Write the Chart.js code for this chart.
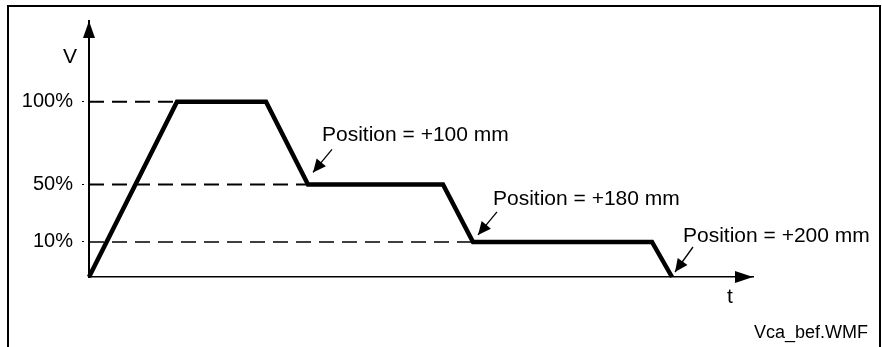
<!DOCTYPE html>
<html>
<head>
<meta charset="utf-8">
<script src="https://cdn.jsdelivr.net/npm/chart.js@4/dist/chart.umd.min.js"></script>
<style>
  body { margin: 0; background: #fff; }
  canvas { display: block; }
</style>
</head>
<body>
<canvas id="speed-chart" width="882" height="347"></canvas>
<script>
// speed profile: time (schematic units) and speed in % of max
const times = [0, 88, 177, 219, 354, 384, 563, 583];
const speeds = [0, 100, 100, 50, 50, 10, 10, 0];
const levelTicks = [10, 50, 100];
const positionLabels = ['Position = +100 mm', 'Position = +180 mm', 'Position = +200 mm'];
const positionPoints = [3, 5, 7];

const FONT = "'Liberation Sans', Arial, sans-serif";

// the speed levels are not drawn to scale, so stretch them piecewise
const levelFrom = [0, 10, 50, 100];
const levelTo = [0, 20, 52.8, 100];

function mapPiecewise(v, from, to) {
    if (v <= from[0]) return to[0] + (v - from[0]);
    for (let i = 1; i < from.length; i++) {
        if (v <= from[i]) {
            const f = (v - from[i - 1]) / (from[i] - from[i - 1]);
            return to[i - 1] + f * (to[i] - to[i - 1]);
        }
    }
    return to[to.length - 1] + (v - from[from.length - 1]);
}

class StepLevelScale extends Chart.LinearScale {
    static id = 'stepLevel';
    static defaults = {};
    getPixelForValue(value) {
        return super.getPixelForValue(mapPiecewise(value, levelFrom, levelTo));
    }
    getValueForPixel(pixel) {
        return mapPiecewise(super.getValueForPixel(pixel), levelTo, levelFrom);
    }
}
Chart.register(StepLevelScale);

const profile = times.map((t, i) => ({ x: t, y: speeds[i] }));

// dashed guide from the axis to where each level is first reached
const guides = levelTicks.map(level => {
    const i = speeds.indexOf(level);
    return {
        data: [{ x: 0, y: level }, { x: times[i], y: level }],
        borderColor: '#000',
        borderWidth: level === 10 ? 1.4 : 2,
        borderDash: [15, 8],
        pointRadius: 0,
        clip: false
    };
});

function arrowHead(ctx, x1, y1, x2, y2, len, half) {
    const a = Math.atan2(y2 - y1, x2 - x1);
    ctx.beginPath();
    ctx.moveTo(x2, y2);
    ctx.lineTo(x2 - len * Math.cos(a) + half * Math.sin(a), y2 - len * Math.sin(a) - half * Math.cos(a));
    ctx.lineTo(x2 - len * Math.cos(a) - half * Math.sin(a), y2 - len * Math.sin(a) + half * Math.cos(a));
    ctx.closePath();
    ctx.fill();
}

const decorations = {
    id: 'decorations',
    afterDraw(chart, args, opts) {
        const ctx = chart.ctx;
        const area = chart.chartArea;
        const xs = chart.scales.x;
        const ys = chart.scales.y;
        ctx.save();
        ctx.strokeStyle = '#000';
        ctx.fillStyle = '#000';

        // frame round the figure, open at the bottom
        ctx.lineWidth = 2;
        ctx.beginPath();
        ctx.moveTo(8, chart.height);
        ctx.lineTo(8, 6);
        ctx.lineTo(880, 6);
        ctx.lineTo(880, chart.height);
        ctx.stroke();

        // axis arrow heads
        arrowHead(ctx, area.left, area.top + 20, area.left, area.top, 17, 6);
        arrowHead(ctx, area.right - 20, area.bottom, area.right, area.bottom, 18, 6);

        ctx.font = '21px ' + FONT;
        ctx.textBaseline = 'alphabetic';
        ctx.textAlign = 'center';
        ctx.fillText('V', 70, 63);
        ctx.fillText('t', 730, 303);

        // position callouts with arrows to the profile corners
        ctx.textAlign = 'left';
        positionLabels.forEach((label, i) => {
            const idx = positionPoints[i];
            const px = xs.getPixelForValue(times[idx]);
            const py = ys.getPixelForValue(speeds[idx]);
            const o = opts.offsets[i];
            ctx.fillText(label, px + o.text[0], py + o.text[1]);
            const x1 = px + o.from[0], y1 = py + o.from[1];
            const x2 = px + o.to[0], y2 = py + o.to[1];
            ctx.lineWidth = 1.3;
            ctx.beginPath();
            ctx.moveTo(x1, y1);
            ctx.lineTo(x2, y2);
            ctx.stroke();
            arrowHead(ctx, x1, y1, x2, y2, 13, 6);
        });

        ctx.font = '18px ' + FONT;
        ctx.textAlign = 'right';
        ctx.fillText('Vca_bef.WMF', 868, 338);
        ctx.restore();
    }
};

new Chart(document.getElementById('speed-chart'), {
    type: 'line',
    data: {
        datasets: [{
            data: profile,
            borderColor: '#000',
            borderWidth: 4.5,
            borderJoinStyle: 'miter',
            pointRadius: 0,
            tension: 0,
            clip: false
        }, ...guides]
    },
    options: {
        responsive: false,
        animation: false,
        devicePixelRatio: 1,
        layout: {
            padding: { top: 15, right: 129, left: 0, bottom: 0 }
        },
        plugins: {
            legend: { display: false },
            tooltip: { enabled: false },
            decorations: {
                offsets: [
                    { text: [14, -43], from: [24, -35], to: [5, -12] },
                    { text: [20, -37], from: [24, -30], to: [5, -7] },
                    { text: [11, -35], from: [21, -30], to: [3, -5] }
                ]
            }
        },
        scales: {
            x: {
                type: 'linear',
                min: 0,
                max: 664,
                grid: { display: false },
                ticks: { display: false },
                border: { color: '#000', width: 1.5 },
                afterFit: scale => { scale.height = 70; }
            },
            y: {
                type: 'stepLevel',
                min: 0,
                max: 146,
                grid: {
                    drawOnChartArea: false,
                    drawTicks: true,
                    tickLength: 7,
                    tickColor: '#000',
                    tickWidth: 1,
                    tickBorderDash: [2, 20]
                },
                border: { color: '#000', width: 2 },
                afterBuildTicks: scale => {
                    scale.ticks = levelTicks.map(v => ({ value: v }));
                },
                afterFit: scale => { scale.width = 89; },
                ticks: {
                    padding: 9,
                    color: '#000',
                    font: { family: FONT, size: 20 },
                    callback: v => v + '%'
                }
            }
        }
    },
    plugins: [decorations]
});
</script>
</body>
</html>
